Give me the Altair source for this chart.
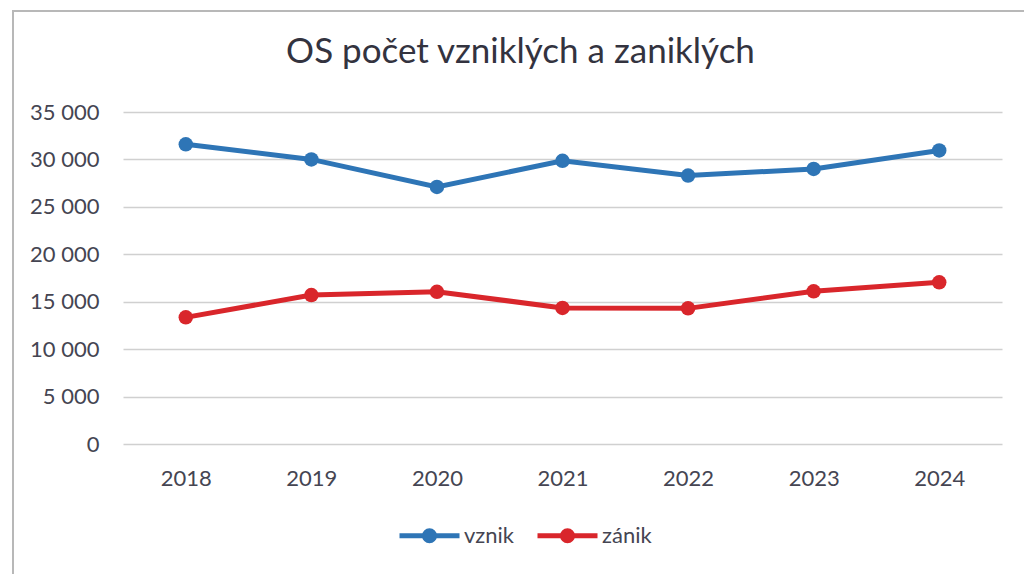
import altair as alt
import pandas as pd

years = ["2018", "2019", "2020", "2021", "2022", "2023", "2024"]
vznik = [31600, 30000, 27100, 29850, 28300, 29000, 30950]
zanik = [13350, 15700, 16050, 14350, 14300, 16100, 17050]
series = ["vznik", "zánik"]
colors = ["#2E75B6", "#D9262B"]
y_ticks = [0, 5000, 10000, 15000, 20000, 25000, 30000, 35000]

rows = []
for i, y in enumerate(years):
    rows.append({"rok": y, "série": series[0], "hodnota": vznik[i]})
    rows.append({"rok": y, "série": series[1], "hodnota": zanik[i]})
df = pd.DataFrame(rows)

FONT = "Lato"
TXT = "#454552"
legend_symbol = "M-1,0L1,0M0.167,0A0.167,0.167,0,1,1,-0.167,0A0.167,0.167,0,1,1,0.167,0Z"

x = alt.X("rok:O", sort=years,
          scale=alt.Scale(type="point", padding=0.5),
          axis=alt.Axis(title=None, labelAngle=0, labelPadding=24, ticks=False,
                        domain=False, grid=False, labelFontSize=22,
                        labelColor=TXT, labelFont=FONT))
y = alt.Y("hodnota:Q", scale=alt.Scale(domain=[0, 35000], nice=False),
          axis=alt.Axis(title=None, values=y_ticks, ticks=False, domain=False,
                        labelPadding=24, labelFontSize=22, labelColor=TXT,
                        labelFont=FONT, gridColor="#d0d0d0", gridWidth=1.5,
                        labelExpr="replace(format(datum.value, ','), ',', ' ')"))
color = alt.Color("série:N", scale=alt.Scale(domain=series, range=colors),
                  legend=alt.Legend(title=None, orient="none", direction="horizontal",
                                    legendX=274, legendY=391,
                                    symbolType=legend_symbol, symbolSize=3600,
                                    symbolStrokeWidth=5, labelFontSize=22,
                                    labelFont=FONT, labelColor=TXT,
                                    labelOffset=2, columnPadding=12))

frame = alt.Chart(pd.DataFrame({"a": [0]})).mark_rect(
    fill="transparent", stroke="#b8b8b8", strokeWidth=2
).encode(x=alt.value(-110), x2=alt.value(920), y=alt.value(-101), y2=alt.value(480))

lines = alt.Chart(df).mark_line(strokeWidth=5).encode(x=x, y=y, color=color)
points = alt.Chart(df).mark_point(filled=True, size=210, opacity=1).encode(x=x, y=y, color=color)

chart = alt.layer(frame, lines, points).properties(
    width=879, height=332,
    title=alt.TitleParams("OS počet vzniklých a zaniklých", fontSize=35, font=FONT,
                          fontWeight="normal", color="#33333f", anchor="middle",
                          dx=-42, offset=-60),
    autosize=alt.AutoSizeParams(type="none"),
    padding={"left": 123, "top": 112, "right": 22, "bottom": 130},
).configure(background="white", view=alt.ViewConfig(stroke="transparent", strokeWidth=0))

chart.save("out.html", embed_options={"renderer": "svg", "actions": False})
